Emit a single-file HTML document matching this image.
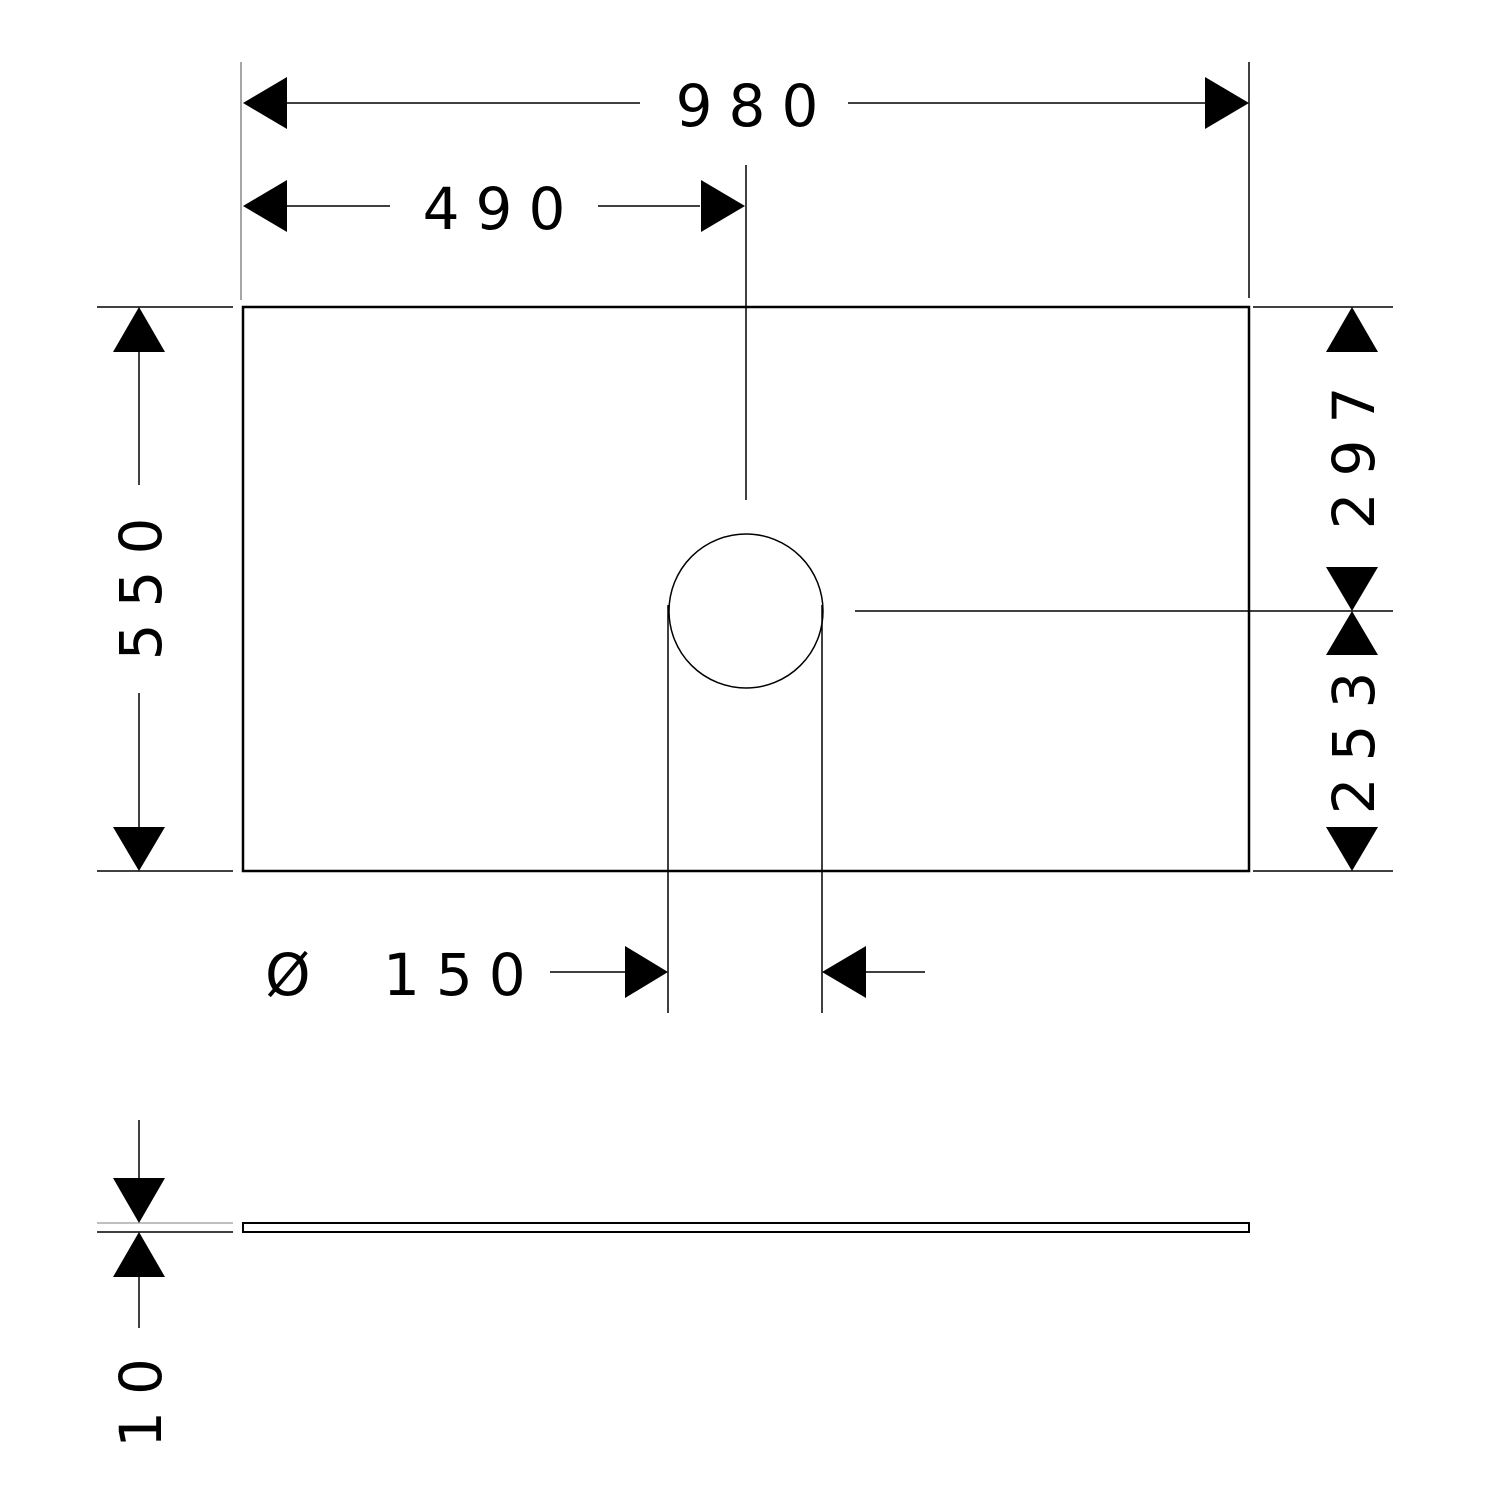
<!DOCTYPE html>
<html><head><meta charset="utf-8"><style>
html,body{margin:0;padding:0;background:#fff;}
svg{display:block;}
text{font-family:"DejaVu Sans","Liberation Sans",sans-serif;font-size:58px;fill:#000;letter-spacing:16px;}
</style></head><body>
<svg width="1500" height="1500" viewBox="0 0 1500 1500" xmlns="http://www.w3.org/2000/svg">
<g stroke="#000" stroke-width="1.5" fill="none">
<rect x="243" y="307" width="1006" height="564" stroke-width="2.5"/>
<line x1="241" y1="62" x2="241" y2="300" stroke="#888"/>
<line x1="1249" y1="62" x2="1249" y2="298"/>
<line x1="746" y1="165" x2="746" y2="500"/>
<line x1="287" y1="103" x2="640" y2="103"/>
<line x1="848" y1="103" x2="1205" y2="103"/>
<line x1="287" y1="206" x2="390" y2="206"/>
<line x1="598" y1="206" x2="700" y2="206"/>
<circle cx="746" cy="611" r="77"/>
<line x1="855" y1="611" x2="1393" y2="611"/>
<line x1="668" y1="605" x2="668" y2="1013"/>
<line x1="822" y1="605" x2="822" y2="1013"/>
<line x1="550" y1="972" x2="625" y2="972"/>
<line x1="866" y1="972" x2="925" y2="972"/>
<line x1="97" y1="307" x2="233" y2="307"/>
<line x1="97" y1="871" x2="233" y2="871"/>
<line x1="139" y1="352" x2="139" y2="485"/>
<line x1="139" y1="693" x2="139" y2="827"/>
<line x1="1253" y1="307" x2="1393" y2="307"/>
<line x1="1253" y1="871" x2="1393" y2="871"/>
<rect x="243" y="1223" width="1006" height="9" stroke-width="2"/>
<line x1="97" y1="1223" x2="233" y2="1223" stroke="#aaa"/>
<line x1="97" y1="1232" x2="233" y2="1232"/>
<line x1="139" y1="1120" x2="139" y2="1178"/>
<line x1="139" y1="1277" x2="139" y2="1328"/>
</g>
<g fill="#000">
<polygon points="243,103 287,77 287,129"/>
<polygon points="1249,103 1205,77 1205,129"/>
<polygon points="243,206 287,180 287,232"/>
<polygon points="745,206 701,180 701,232"/>
<polygon points="668,972 625,946 625,998"/>
<polygon points="822,972 866,946 866,998"/>
<polygon points="139,307 113,352 165,352"/>
<polygon points="139,871 113,827 165,827"/>
<polygon points="1352,307 1326,352 1378,352"/>
<polygon points="1352,611 1326,567 1378,567"/>
<polygon points="1352,611 1326,655 1378,655"/>
<polygon points="1352,871 1326,827 1378,827"/>
<polygon points="139,1223 113,1178 165,1178"/>
<polygon points="139,1232 113,1277 165,1277"/>
</g>
<text x="755" y="126" text-anchor="middle">980</text>
<text x="502" y="229" text-anchor="middle">490</text>
<text x="265" y="995">Ø</text>
<text x="383" y="995">150</text>
<text transform="translate(161,581) rotate(-90)" text-anchor="middle">550</text>
<text transform="translate(1374,450) rotate(-90)" text-anchor="middle">297</text>
<text transform="translate(1374,735) rotate(-90)" text-anchor="middle">253</text>
<text transform="translate(161,1395) rotate(-90)" text-anchor="middle">10</text>
</svg>
</body></html>
